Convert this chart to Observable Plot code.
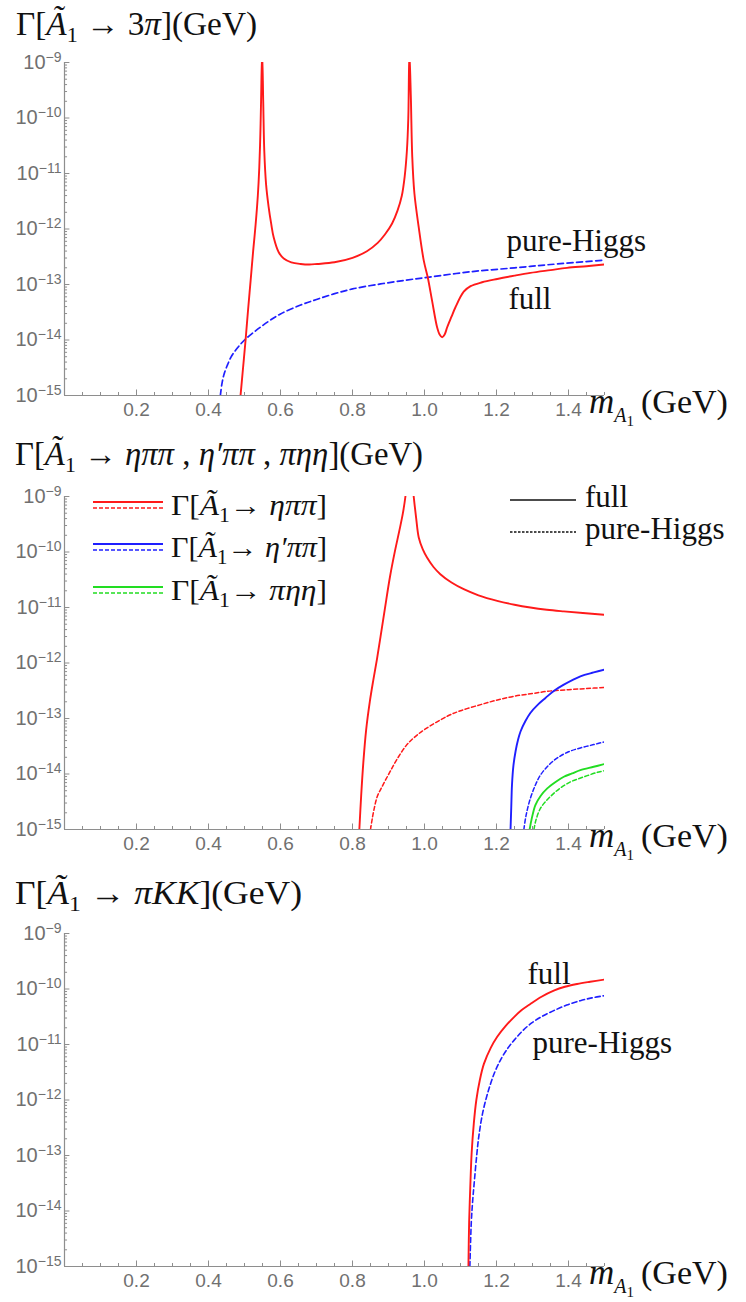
<!DOCTYPE html>
<html><head><meta charset="utf-8">
<script src="https://cdn.jsdelivr.net/npm/d3@7"></script>
<script src="https://cdn.jsdelivr.net/npm/@observablehq/plot@0.6"></script>
<style>
body{margin:0;background:#fff}
#wrap{position:relative;width:746px;height:1302px;overflow:hidden;background:#fff}
.panel{position:absolute;left:0}
#overlay{position:absolute;left:0;top:0;pointer-events:none}
#overlay text{font-family:"Liberation Serif","DejaVu Serif",serif;white-space:pre;fill:#111}
</style></head><body><div id="wrap"></div>
<script>
// ---------- axes ----------
const xTickLabels = [0.2, 0.4, 0.6, 0.8, 1.0, 1.2, 1.4];
const yDecades = [-15, -14, -13, -12, -11, -10, -9];

// ---------- Panel 1: A1 -> 3pi  (x = m_A1 in GeV, log10 of width in GeV) ----------
const p1FullX = [0.489,0.496,0.503,0.510,0.517,0.524,0.531,0.537,0.541,0.544,0.546,0.549,0.552,0.555,0.560,0.567,0.574,0.581,0.595,0.609,0.630,0.656,0.680,0.702,0.750,0.800,0.840,0.870,0.890,0.910,0.925,0.937,0.945,0.951,0.955,0.958,0.962,0.966,0.972,0.984,0.998,1.009,1.021,1.035,1.042,1.049,1.056,1.063,1.075,1.086,1.109,1.128,1.160,1.202,1.250,1.294,1.350,1.396,1.450,1.500];
const p1FullLog = [-15,-14.5,-14.0,-13.45,-12.93,-12.4,-11.91,-11.4,-10.9,-10.3,-9.7,-8.8,-9.7,-10.6,-11.2,-11.6,-11.9,-12.15,-12.42,-12.53,-12.6,-12.63,-12.64,-12.63,-12.6,-12.52,-12.4,-12.25,-12.1,-11.9,-11.67,-11.4,-11.05,-10.6,-10.0,-8.8,-9.6,-10.7,-11.36,-11.97,-12.57,-12.87,-13.29,-13.77,-13.9,-13.95,-13.9,-13.77,-13.58,-13.41,-13.13,-13.03,-12.96,-12.9,-12.84,-12.79,-12.74,-12.70,-12.67,-12.64];
const p1HiggsX = [0.433,0.437,0.443,0.452,0.465,0.482,0.500,0.520,0.544,0.570,0.600,0.656,0.700,0.748,0.800,0.878,0.950,1.009,1.128,1.250,1.350,1.500];
const p1HiggsLog = [-15,-14.8,-14.62,-14.46,-14.28,-14.13,-14.0,-13.89,-13.77,-13.65,-13.53,-13.37,-13.27,-13.17,-13.08,-12.99,-12.92,-12.87,-12.77,-12.70,-12.64,-12.56];
const p1NoteText = ["pure-Higgs", "full"];
const p1NoteX = [1.228, 1.233];
const p1NoteLog = [-12.21, -13.26];

// ---------- Panel 2: A1 -> eta pi pi, eta' pi pi, pi eta eta ----------
const p2EppFullX = [0.819,0.824,0.830,0.838,0.848,0.858,0.868,0.878,0.890,0.904,0.918,0.930,0.940,0.947,0.953,0.958,0.964,0.970,0.977,0.984,0.995,1.007,1.025,1.044,1.075,1.109,1.150,1.202,1.250,1.294,1.340,1.387,1.440,1.500];
const p2EppFullLog = [-15,-14.4,-13.8,-13.2,-12.7,-12.3,-11.93,-11.52,-11.02,-10.45,-9.98,-9.62,-9.3,-9.0,-8.6,-8.0,-8.6,-9.0,-9.4,-9.74,-9.95,-10.10,-10.27,-10.40,-10.55,-10.67,-10.78,-10.88,-10.95,-11.0,-11.04,-11.07,-11.1,-11.13];
const p2EppHiggsX = [0.850,0.855,0.861,0.869,0.878,0.890,0.905,0.924,0.950,0.970,1.000,1.063,1.100,1.156,1.200,1.248,1.300,1.341,1.400,1.450,1.500];
const p2EppHiggsLog = [-15,-14.8,-14.6,-14.4,-14.28,-14.13,-13.95,-13.73,-13.48,-13.35,-13.2,-12.96,-12.86,-12.75,-12.67,-12.60,-12.55,-12.51,-12.48,-12.46,-12.44];
const p2EtapFullX = [1.239,1.241,1.243,1.247,1.253,1.260,1.267,1.280,1.294,1.315,1.336,1.360,1.387,1.433,1.470,1.500];
const p2EtapFullLog = [-15,-14.6,-14.2,-13.85,-13.59,-13.38,-13.23,-13.05,-12.90,-12.75,-12.63,-12.5,-12.39,-12.24,-12.17,-12.12];
const p2EtapHiggsX = [1.276,1.282,1.294,1.308,1.322,1.345,1.369,1.400,1.433,1.470,1.500];
const p2EtapHiggsLog = [-15,-14.75,-14.44,-14.2,-14.02,-13.84,-13.71,-13.6,-13.53,-13.47,-13.42];
const p2PeeFullX = [1.292,1.298,1.308,1.322,1.341,1.365,1.387,1.410,1.433,1.470,1.500];
const p2PeeFullLog = [-15,-14.8,-14.56,-14.4,-14.26,-14.14,-14.05,-13.99,-13.93,-13.87,-13.82];
const p2PeeHiggsX = [1.304,1.310,1.322,1.340,1.359,1.380,1.406,1.430,1.452,1.480,1.500];
const p2PeeHiggsLog = [-15,-14.82,-14.62,-14.47,-14.35,-14.24,-14.14,-14.08,-14.03,-13.97,-13.94];

// ---------- Panel 3: A1 -> pi K K ----------
const p3FullX = [1.122,1.124,1.127,1.131,1.137,1.144,1.154,1.165,1.184,1.202,1.225,1.248,1.270,1.294,1.325,1.359,1.390,1.424,1.460,1.500];
const p3FullLog = [-15,-14.2,-13.6,-12.95,-12.42,-12.0,-11.63,-11.35,-11.06,-10.86,-10.67,-10.51,-10.38,-10.27,-10.14,-10.03,-9.96,-9.91,-9.87,-9.83];
const p3HiggsX = [1.126,1.130,1.134,1.138,1.145,1.151,1.162,1.178,1.195,1.211,1.230,1.248,1.270,1.294,1.325,1.359,1.395,1.433,1.465,1.500];
const p3HiggsLog = [-15,-14.2,-13.8,-13.5,-13.0,-12.65,-12.22,-11.82,-11.5,-11.28,-11.08,-10.93,-10.77,-10.63,-10.5,-10.39,-10.29,-10.21,-10.16,-10.12];
const p3NoteText = ["full", "pure-Higgs"];
const p3NoteX = [1.286, 1.300];
const p3NoteLog = [-9.73, -10.98];

// ---------- styling ----------
const RED = "#ff1a1a", BLUE = "#1f1fff", GREEN = "#22dd22", AX = "#8e8e8e";
const PX_PER_DEC = 55.4;
const yMajor = yDecades.map(k => 10 ** k);
const yMinor = [];
for (const k of yDecades.slice(0, -1)) for (let m = 2; m <= 9; m++) yMinor.push(m * 10 ** k);
const xMinor = d3.range(0, 31).map(i => i * 0.05);
const xMajor = d3.range(0, 8).map(i => i * 0.2);

function panel(series, notes) {
  const marks = [
    Plot.ruleY(yMinor, {x1: 0, x2: 0.0085, stroke: AX, strokeWidth: 1}),
    Plot.ruleY(yMajor, {x1: 0, x2: 0.015, stroke: AX, strokeWidth: 1}),
    Plot.ruleX(xMinor, {y1: 1e-15, y2: 10 ** (-15 + 3 / PX_PER_DEC), stroke: AX, strokeWidth: 1}),
    Plot.ruleX(xMajor, {y1: 1e-15, y2: 10 ** (-15 + 5.5 / PX_PER_DEC), stroke: AX, strokeWidth: 1}),
    Plot.ruleX([0], {stroke: AX, strokeWidth: 1.2}),
    Plot.ruleY([1e-15], {stroke: AX, strokeWidth: 1.2}),
    Plot.axisY({ticks: yMajor, tickSize: 0, tickPadding: 3, tickFormat: d => "10^" + Math.round(Math.log10(d)), fontSize: 20}),
    Plot.axisX({ticks: xTickLabels, tickSize: 0, tickPadding: 7, tickFormat: d3.format(".1f"), fontSize: 19})
  ];
  for (const s of series) {
    marks.push(Plot.line(d3.zip(s.x, s.log), {
      x: d => d[0], y: d => 10 ** d[1], stroke: s.color, strokeWidth: s.w || 1.8,
      strokeDasharray: s.dash, curve: "catmull-rom", clip: true
    }));
  }
  if (notes) {
    marks.push(Plot.text(notes.text, {
      x: (d, i) => notes.x[i], y: (d, i) => 10 ** notes.log[i], text: d => d,
      textAnchor: "start", lineAnchor: "middle", fontSize: 31, fill: "#111",
      fontFamily: "Liberation Serif, DejaVu Serif, serif"
    }));
  }
  const svg = Plot.plot({
    width: 746, height: 386,
    marginTop: 17, marginBottom: 36, marginLeft: 64, marginRight: 142,
    x: {domain: [0, 1.5]},
    y: {type: "log", domain: [1e-15, 1e-9]},
    style: {fontFamily: "Liberation Sans, Arimo, Helvetica, sans-serif", fontSize: "19px", color: "#707070", background: "transparent", overflow: "visible"},
    marks
  });
  // render y tick labels as 10 with a superscript exponent
  svg.querySelectorAll('g[aria-label="y-axis tick label"] text').forEach(t => {
    const m = /^10\^(-?\d+)$/.exec(t.textContent);
    if (!m) return;
    t.textContent = "10";
    const sp = document.createElementNS("http://www.w3.org/2000/svg", "tspan");
    sp.setAttribute("dy", "-0.5em");
    sp.setAttribute("font-size", "14");
    sp.textContent = m[1].replace("-", "\u2212");
    t.appendChild(sp);
  });
  return svg;
}

const wrap = document.getElementById("wrap");
const defs = [
  {top: 45, series: [
    {x: p1HiggsX, log: p1HiggsLog, color: BLUE, dash: "6,3.5", w: 1.7},
    {x: p1FullX, log: p1FullLog, color: RED, w: 1.9}
  ], notes: {text: p1NoteText, x: p1NoteX, log: p1NoteLog}},
  {top: 479, series: [
    {x: p2EppHiggsX, log: p2EppHiggsLog, color: RED, dash: "4,2.5", w: 1.5},
    {x: p2EppFullX, log: p2EppFullLog, color: RED, w: 1.9},
    {x: p2EtapHiggsX, log: p2EtapHiggsLog, color: BLUE, dash: "4,2.5", w: 1.5},
    {x: p2EtapFullX, log: p2EtapFullLog, color: BLUE, w: 1.9},
    {x: p2PeeHiggsX, log: p2PeeHiggsLog, color: GREEN, dash: "4,2.5", w: 1.5},
    {x: p2PeeFullX, log: p2PeeFullLog, color: GREEN, w: 1.9}
  ]},
  {top: 916, series: [
    {x: p3HiggsX, log: p3HiggsLog, color: BLUE, dash: "5,3", w: 1.6},
    {x: p3FullX, log: p3FullLog, color: RED, w: 1.9}
  ], notes: {text: p3NoteText, x: p3NoteX, log: p3NoteLog}}
];
for (const d of defs) {
  const div = document.createElement("div");
  div.className = "panel";
  div.style.top = d.top + "px";
  div.appendChild(panel(d.series, d.notes));
  wrap.appendChild(div);
}

// ---------- overlay: titles, axis labels, legend ----------
const A1 = (fs, dy) => `<tspan font-style="italic">Ã</tspan><tspan font-size="${fs}" dy="${dy}">1</tspan><tspan dy="${-dy}">`;
function xLabel(y) {
  return `<text x="589" y="${y}"><tspan font-style="italic" font-size="35">m</tspan><tspan font-style="italic" font-size="20" dy="9">A</tspan><tspan font-size="15" dy="4">1</tspan><tspan font-size="34" dy="-13" dx="7">(GeV)</tspan></text>`;
}
const legRows = [
  {color: RED, ys: 502, label: `Γ[${A1(20, 7)}→ </tspan><tspan font-style="italic">ηππ</tspan>]`},
  {color: BLUE, ys: 544, label: `Γ[${A1(20, 7)}→ </tspan><tspan font-style="italic">η′ππ</tspan>]`},
  {color: GREEN, ys: 587, label: `Γ[${A1(20, 7)}→ </tspan><tspan font-style="italic">πηη</tspan>]`}
];
let leg = "";
for (const r of legRows) {
  leg += `<line x1="93" x2="163" y1="${r.ys}" y2="${r.ys}" stroke="${r.color}" stroke-width="2"/>`;
  leg += `<line x1="93" x2="163" y1="${r.ys + 6}" y2="${r.ys + 6}" stroke="${r.color}" stroke-width="1.6" stroke-dasharray="4,2"/>`;
  leg += `<text x="171" y="${r.ys + 13}" font-size="29" textLength="156" lengthAdjust="spacingAndGlyphs">${r.label}</text>`;
}
leg += `<line x1="510" x2="576" y1="500" y2="500" stroke="#111" stroke-width="1.6"/>`;
leg += `<text x="585" y="507" font-size="31">full</text>`;
leg += `<line x1="510" x2="576" y1="532" y2="532" stroke="#111" stroke-width="1.3" stroke-dasharray="2.5,1.5"/>`;
leg += `<text x="585" y="539" font-size="31">pure-Higgs</text>`;

const overlay = `<svg id="overlay" width="746" height="1302" xmlns="http://www.w3.org/2000/svg">
<text x="16" y="35" font-size="33" textLength="241" lengthAdjust="spacingAndGlyphs">Γ[${A1(22, 7)} → 3<tspan font-style="italic">π</tspan>](GeV)</tspan></text>
<text x="15" y="465" font-size="33" textLength="408" lengthAdjust="spacingAndGlyphs">Γ[${A1(22, 7)} → <tspan font-style="italic">ηππ</tspan> , <tspan font-style="italic">η′ππ</tspan> , <tspan font-style="italic">πηη</tspan>](GeV)</tspan></text>
<text x="15" y="904" font-size="33" textLength="287" lengthAdjust="spacingAndGlyphs">Γ[${A1(22, 7)} → <tspan font-style="italic">πKK</tspan>](GeV)</tspan></text>
${xLabel(413)}
${xLabel(847)}
${xLabel(1284)}
${leg}
</svg>`;
wrap.insertAdjacentHTML("beforeend", overlay);
</script>
</body></html>
